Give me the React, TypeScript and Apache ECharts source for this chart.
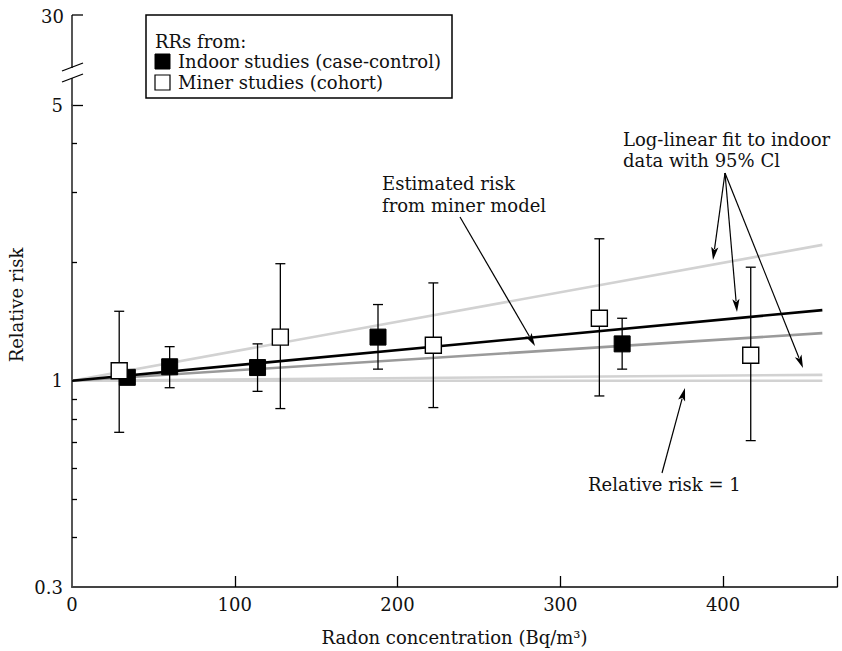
import React, { useEffect, useRef } from "react";
import * as echarts from "echarts";

// ---- data ----
const xTickValues = [100, 200, 300, 400, 470];
const xLabelValues = [0, 100, 200, 300, 400];
const yLabelValues = [0.3, 1, 5];
const yMajorTicks = [1, 5];
const yMinorTicks = [0.4, 0.5, 0.6, 0.7, 0.8, 0.9, 2, 3, 4];

const indoorX = [34, 60, 114, 188, 338];
const indoorRR = [1.02, 1.085, 1.08, 1.29, 1.24];
const indoorLo = [null, 0.96, 0.94, 1.07, 1.07];
const indoorHi = [null, 1.22, 1.24, 1.56, 1.44];

const minerX = [29, 128, 222, 324, 417];
const minerRR = [1.06, 1.29, 1.23, 1.44, 1.16];
const minerLo = [0.74, 0.85, 0.855, 0.915, 0.705];
const minerHi = [1.5, 1.98, 1.77, 2.29, 1.94];

const lineX = [0, 461];
const fitRR = [1, 1.51];
const upperCI = [1, 2.21];
const lowerCI = [1, 1.035];
const minerModelRR = [1, 1.32];
const baselineRR = [1, 1];

const seriesNames = ["Indoor studies (case-control)", "Miner studies (cohort)"];

const L = (v: number) => Math.log10(v);
const FONT = "DejaVu Serif";
const FS = 18;

function arrow(x1: number, y1: number, x2: number, y2: number) {
  const dx = x2 - x1, dy = y2 - y1;
  const len = Math.sqrt(dx * dx + dy * dy);
  const ux = dx / len, uy = dy / len;
  const hl = 13, hw = 3.6;
  const bx = x2 - ux * hl, by = y2 - uy * hl;
  return [
    { type: "line", z: 50, shape: { x1, y1, x2: bx + ux * 2, y2: by + uy * 2 }, style: { stroke: "#000", lineWidth: 1.2 } },
    {
      type: "polygon", z: 50,
      shape: { points: [[x2, y2], [bx - uy * hw, by + ux * hw], [bx + ux * 3, by + uy * 3], [bx + uy * hw, by - ux * hw]] },
      style: { fill: "#000" },
    },
  ];
}

function txt(x: number, y: number, text: string, align = "left") {
  return { type: "text", z: 50, x, y, style: { text, font: `${FS}px "${FONT}"`, fill: "#111", align, verticalAlign: "middle" } };
}

function lineSeries(name: string, ys: number[], color: string, width: number, z: number) {
  return {
    name, type: "line", data: lineX.map((x, i) => [x, L(ys[i])]), symbol: "none", z,
    lineStyle: { color, width }, silent: true,
  };
}

function errSeries(xs: number[], lo: (number | null)[], hi: (number | null)[], z: number) {
  const data: number[][] = [];
  xs.forEach((x, i) => { if (lo[i] != null && hi[i] != null) data.push([x, L(lo[i] as number), L(hi[i] as number)]); });
  return {
    type: "custom", z, data, encode: { x: 0, y: [1, 2] }, silent: true,
    renderItem: (params: any, api: any) => {
      const p1 = api.coord([api.value(0), api.value(1)]);
      const p2 = api.coord([api.value(0), api.value(2)]);
      const w = 5;
      const st = { stroke: "#000", lineWidth: 1.3 };
      return {
        type: "group",
        children: [
          { type: "line", shape: { x1: p1[0], y1: p1[1], x2: p2[0], y2: p2[1] }, style: st },
          { type: "line", shape: { x1: p1[0] - w, y1: p1[1], x2: p1[0] + w, y2: p1[1] }, style: st },
          { type: "line", shape: { x1: p2[0] - w, y1: p2[1], x2: p2[0] + w, y2: p2[1] }, style: st },
        ],
      };
    },
  };
}

export default function App() {
  const ref = useRef<HTMLDivElement>(null);
  useEffect(() => {
    const chart = echarts.init(ref.current!, null, { renderer: "svg" });
    const axisColor = "#444";
    const yMin = L(0.3), yMax = L(5);
    const graphic: any[] = [
      // upper (broken) part of the y axis up to 30
      { type: "line", z: 50, shape: { x1: 72, y1: 15, x2: 72, y2: 68 }, style: { stroke: axisColor, lineWidth: 1.8 } },
      { type: "line", z: 50, shape: { x1: 72, y1: 78, x2: 72, y2: 106 }, style: { stroke: axisColor, lineWidth: 1.8 } },
      { type: "line", z: 50, shape: { x1: 72, y1: 15, x2: 83, y2: 15 }, style: { stroke: "#000", lineWidth: 1.3 } },
      { type: "line", z: 50, shape: { x1: 62, y1: 71, x2: 83, y2: 63 }, style: { stroke: "#000", lineWidth: 1.3 } },
      { type: "line", z: 50, shape: { x1: 62, y1: 82, x2: 83, y2: 74 }, style: { stroke: "#000", lineWidth: 1.3 } },
      txt(64, 16, "30", "right"),
      // y axis title
      { type: "text", z: 50, x: 16, y: 305, rotation: Math.PI / 2,
        style: { text: "Relative risk", font: `${FS}px "${FONT}"`, fill: "#111", align: "center", verticalAlign: "middle" } },
      // legend
      { type: "rect", z: 50, shape: { x: 146, y: 15, width: 306, height: 83 }, style: { fill: "#fff", stroke: "#000", lineWidth: 1.5 } },
      txt(155, 41, "RRs from:"),
      { type: "rect", z: 51, shape: { x: 155, y: 54, width: 15, height: 15 }, style: { fill: "#000", stroke: "#000", lineWidth: 1 } },
      txt(178, 61, seriesNames[0]),
      { type: "rect", z: 51, shape: { x: 155, y: 75, width: 15, height: 15 }, style: { fill: "#fff", stroke: "#000", lineWidth: 1.2 } },
      txt(178, 82, seriesNames[1]),
      // annotations
      txt(382, 183, "Estimated risk"),
      txt(382, 205, "from miner model"),
      ...arrow(460, 217, 535, 346),
      txt(623, 139, "Log-linear fit to indoor"),
      txt(623, 160, "data with 95% Cl"),
      ...arrow(725, 173, 713, 260),
      ...arrow(725, 173, 737, 312),
      ...arrow(725, 173, 803, 368),
      txt(588, 484, "Relative risk = 1"),
      ...arrow(662, 473, 685, 388),
    ];

    chart.setOption({
      animation: false,
      backgroundColor: "#fff",
      textStyle: { fontFamily: FONT },
      grid: { left: 72, top: 105, width: 765, height: 483, containLabel: false },
      xAxis: {
        type: "value", min: 0, max: 470,
        name: "Radon concentration (Bq/m³)", nameLocation: "middle", nameGap: 50,
        nameTextStyle: { fontFamily: FONT, fontSize: FS, color: "#111", verticalAlign: "middle" },
        axisLine: { show: true, onZero: false, lineStyle: { color: axisColor, width: 1.8 } },
        axisTick: { show: true, inside: true, length: 11, customValues: xTickValues, lineStyle: { color: "#000", width: 1.3 } },
        axisLabel: { customValues: xLabelValues, fontFamily: FONT, fontSize: FS, color: "#111", margin: 8 },
        splitLine: { show: false },
      },
      yAxis: [
        {
          type: "value", min: yMin, max: yMax,
          axisLine: { show: true, onZero: false, lineStyle: { color: axisColor, width: 1.8 } },
          axisTick: { show: true, inside: true, length: 11, customValues: yMajorTicks.map(L), lineStyle: { color: "#000", width: 1.3 } },
          axisLabel: {
            customValues: yLabelValues.map(L), fontFamily: FONT, fontSize: FS, color: "#111", margin: 9,
            formatter: (v: number) => String(Math.round(Math.pow(10, v) * 10) / 10),
          },
          splitLine: { show: false },
        },
        {
          type: "value", min: yMin, max: yMax, position: "left",
          axisLine: { show: false, onZero: false },
          axisTick: { show: true, inside: true, length: 5, customValues: yMinorTicks.map(L), lineStyle: { color: "#000", width: 1.3 } },
          axisLabel: { show: false },
          splitLine: { show: false },
        },
      ],
      series: [
        lineSeries("Relative risk = 1", baselineRR, "#d2d2d2", 2.6, 2),
        lineSeries("Lower 95% CI", lowerCI, "#d2d2d2", 2.6, 2),
        lineSeries("Upper 95% CI", upperCI, "#d2d2d2", 2.6, 2),
        lineSeries("Miner model", minerModelRR, "#9a9a9a", 2.6, 3),
        lineSeries("Log-linear fit", fitRR, "#000", 2.6, 4),
        errSeries(indoorX, indoorLo, indoorHi, 5),
        {
          name: seriesNames[0], type: "scatter", z: 6, symbol: "rect", symbolSize: 16,
          data: indoorX.map((x, i) => [x, L(indoorRR[i])]),
          itemStyle: { color: "#000", borderColor: "#000", borderWidth: 1, opacity: 1 },
        },
        errSeries(minerX, minerLo, minerHi, 7),
        {
          name: seriesNames[1], type: "scatter", z: 8, symbol: "rect", symbolSize: 16,
          data: minerX.map((x, i) => [x, L(minerRR[i])]),
          itemStyle: { color: "#fff", borderColor: "#000", borderWidth: 1.4, opacity: 1 },
        },
      ],
      graphic,
    });
    return () => chart.dispose();
  }, []);
  return <div ref={ref} style={{ position: "fixed", left: 0, top: 0, width: 842, height: 651, background: "#fff" }} />;
}
